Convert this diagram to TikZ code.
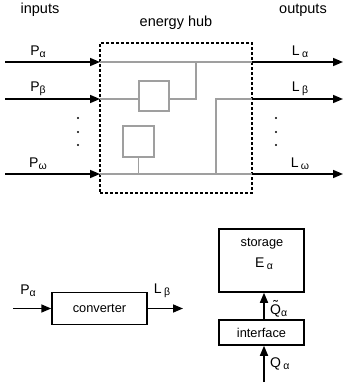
\documentclass[tikz,border=0pt]{standalone}
\usepackage{fontspec}
\setmainfont{Liberation Sans}
\usetikzlibrary{arrows.meta}
\begin{document}
\begin{tikzpicture}[x=1pt,y=-1pt,
  flow/.style={line width=1.6pt,-{Triangle[length=10pt,width=8pt]}},
  wire/.style={draw=gray!75,line width=1.4pt},
  gbox/.style={draw=gray!75,line width=1.4pt,minimum width=30pt,minimum height=30pt,inner sep=0pt},
  bbox/.style={draw,line width=1.5pt,inner sep=0pt},
  lbl/.style={inner sep=0pt,font=\fontsize{14}{14}\selectfont},
  ttl/.style={inner sep=0pt,font=\fontsize{14.5}{15}\selectfont},
  sm/.style={inner sep=0pt,font=\fontsize{12.8}{13}\selectfont},
  dot/.style={circle,fill,inner sep=0pt,minimum size=2.2pt}]
\useasboundingbox (0,0) rectangle (344,389);
\newcommand{\sbs}[1]{\raisebox{-2pt}{\fontsize{10.5}{10.5}\selectfont #1}}
\newcommand{\Qtil}{\leavevmode\rlap{\hbox to \fontcharwd\font`Q{\hss\raisebox{3.5pt}{\char"02DC}\hss}}Q}
% titles
\node[ttl] (tin) at (40,10) {inputs};
\node[ttl] (tout) at (303,10) {outputs};
\node[ttl] (thub) at (176,23) {energy hub};
% hub
\node[draw,line width=1.4pt,dash pattern=on 3pt off 2pt,minimum width=152pt,minimum height=150pt,inner sep=0pt] (hub) at (176,118) {};
\coordinate (ia) at (5,62); \coordinate (ib) at (5,99); \coordinate (iw) at (5,174);
\coordinate (ha) at (100,62); \coordinate (hb) at (100,99); \coordinate (hw) at (100,174);
\coordinate (ka) at (252,62); \coordinate (kb) at (252,99); \coordinate (kw) at (252,174);
\coordinate (oa) at (343,62); \coordinate (ob) at (343,99); \coordinate (ow) at (343,174);
\node[gbox] (b1) at (154,96) {};
\node[gbox,minimum width=31pt,minimum height=31pt] (b2) at (138.5,141.5) {};
% gray wiring
\draw[wire] (ha) -- (ka);
\draw[wire] (hb) -- (b1.west |- hb);
\draw[wire] (b1.east |- hb) -- (196,99) -- (196,62);
\draw[wire] (hw) -- (kw);
\draw[wire] (b2.south) -- (b2.south |- hw);
\draw[wire] (216,174) -- (216,99) -- (kb);
% arrows
\draw[flow] (ia) -- (ha);
\draw[flow] (ib) -- (hb);
\draw[flow] (iw) -- (hw);
\draw[flow] (ka) -- (oa);
\draw[flow] (kb) -- (ob);
\draw[flow] (kw) -- (ow);
% labels
\node[lbl] (pa) at (38,52) {P\sbs{α}};
\node[lbl] (pb) at (38,89) {P\sbs{β}};
\node[lbl] (pw) at (38,164) {P\sbs{ω}};
\node[lbl] (la) at (300,52) {L\,\sbs{α}};
\node[lbl] (lb) at (300,89) {L\,\sbs{β}};
\node[lbl] (lw) at (300,164) {L\,\sbs{ω}};
% dots
\node[dot] (d1) at (78,118) {}; \node[dot] (d2) at (78,132) {}; \node[dot] (d3) at (78,145) {};
\node[dot] (e1) at (276,118) {}; \node[dot] (e2) at (276,132) {}; \node[dot] (e3) at (276,145) {};
% converter
\node[bbox,minimum width=95pt,minimum height=32pt,font=\fontsize{12.8}{13}\selectfont] (conv) at (99.5,308.5) {converter};
\coordinate (cin) at (13,308.5); \coordinate (cout) at (183,308.5);
\draw[flow] (cin) -- (conv.west);
\draw[flow] (conv.east) -- (cout);
\node[lbl] (cpa) at (28,291) {P\sbs{α}};
\node[lbl] (clb) at (162,291) {L\,\sbs{β}};
% storage
\node[bbox,minimum width=85pt,minimum height=63pt] (stor) at (261.5,260.5) {};
\node[sm] (stt) at (262,244) {storage};
\node[lbl] (ste) at (264,264) {E\,\sbs{α}};
\node[bbox,minimum width=85pt,minimum height=25pt,font=\fontsize{12.8}{13}\selectfont] (intf) at (261.5,332.5) {interface};
\coordinate (qin) at (264,382);
\draw[flow] (intf.north -| 264,0) -- (stor.south -| 264,0);
\draw[flow] (qin) -- (intf.south -| 264,0);
\node[lbl,anchor=west] (qt) at (270,309) {\Qtil\sbs{α}};
\node[lbl,anchor=west] (q) at (270,364) {Q\,\sbs{α}};
\end{tikzpicture}
\end{document}
